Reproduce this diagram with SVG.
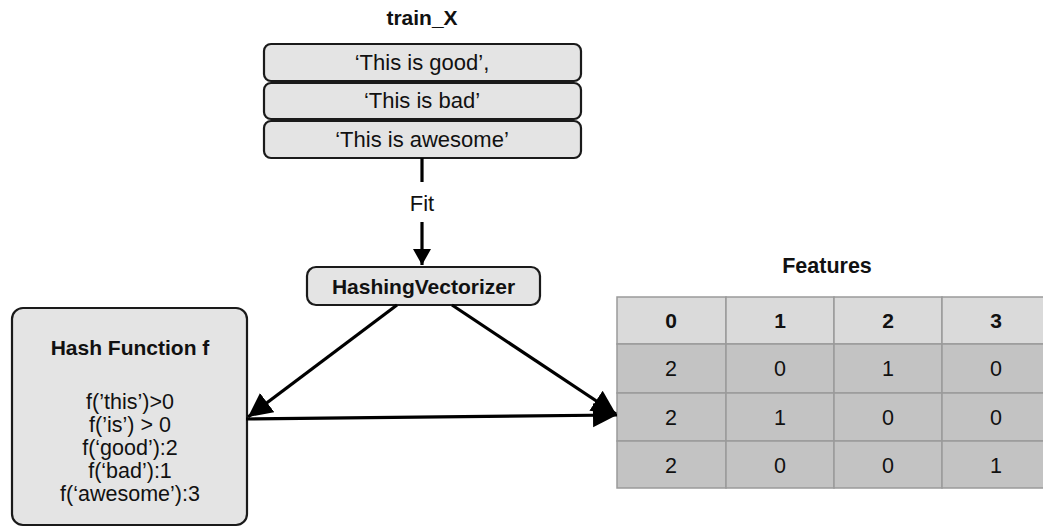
<svg xmlns="http://www.w3.org/2000/svg" width="1043" height="528" viewBox="0 0 1043 528">
<defs>
<style>
text{font-family:"Liberation Sans",Arial,sans-serif;fill:#111;text-anchor:middle}
.t{font-size:21.5px}
.r{font-size:22px}
.b{font-size:21px;font-weight:bold}
.box{fill:#e4e4e4;stroke:#1a1a1a;stroke-width:2.2}
.hd{fill:#dadada;stroke:#9a9a9a;stroke-width:1.5}
.cell{fill:#c3c3c3;stroke:#9a9a9a;stroke-width:1.5}
.ln{stroke:#000;stroke-width:3.2;fill:none}
</style>
<marker id="ah" markerUnits="userSpaceOnUse" markerWidth="26" markerHeight="26" refX="24" refY="12" orient="auto">
<path d="M0,0 L24,12 L0,24 z" fill="#000"/>
</marker>
<marker id="ahs" markerUnits="userSpaceOnUse" markerWidth="20" markerHeight="20" refX="16" refY="9" orient="auto">
<path d="M0,0 L16,9 L0,18 z" fill="#000"/>
</marker>
</defs>
<rect width="1043" height="528" fill="#fff"/>

<g id="trainX">
<text class="b" x="422" y="25">train_X</text>
<rect class="box" x="264" y="44" width="317" height="37" rx="7"/>
<text class="r" x="422" y="70">‘This is good’,</text>
<rect class="box" x="264" y="83" width="317" height="36" rx="7"/>
<text class="r" x="422" y="108">‘This is bad’</text>
<rect class="box" x="264" y="121" width="317" height="37" rx="7"/>
<text class="r" x="422" y="147">‘This is awesome’</text>
</g>

<g id="hashingVectorizer">
<rect class="box" x="307" y="267" width="233" height="38" rx="9"/>
<text class="b" x="423.5" y="294">HashingVectorizer</text>
</g>

<g id="hashFunction">
<rect class="box" x="12" y="308" width="235" height="217" rx="11"/>
<text class="b" x="130" y="355">Hash Function f</text>
<text class="t" x="130" y="409">f(’this’)&gt;0</text>
<text class="t" x="130" y="432">f(’is’) &gt; 0</text>
<text class="t" x="130" y="455">f(‘good’):2</text>
<text class="t" x="130" y="478">f(‘bad’):1</text>
<text class="t" x="130" y="501">f(‘awesome’):3</text>
</g>

<g id="features">
<text class="b" x="827" y="273" style="font-size:21.5px">Features</text>
<rect class="hd" x="617" y="297" width="109" height="47"/>
<rect class="hd" x="726" y="297" width="108" height="47"/>
<rect class="hd" x="834" y="297" width="108" height="47"/>
<rect class="hd" x="942" y="297" width="108" height="47"/>
<rect class="cell" x="617" y="344" width="109" height="49"/>
<rect class="cell" x="726" y="344" width="108" height="49"/>
<rect class="cell" x="834" y="344" width="108" height="49"/>
<rect class="cell" x="942" y="344" width="108" height="49"/>
<rect class="cell" x="617" y="393" width="109" height="48"/>
<rect class="cell" x="726" y="393" width="108" height="48"/>
<rect class="cell" x="834" y="393" width="108" height="48"/>
<rect class="cell" x="942" y="393" width="108" height="48"/>
<rect class="cell" x="617" y="441" width="109" height="47"/>
<rect class="cell" x="726" y="441" width="108" height="47"/>
<rect class="cell" x="834" y="441" width="108" height="47"/>
<rect class="cell" x="942" y="441" width="108" height="47"/>
<text class="b" x="671" y="328">0</text>
<text class="b" x="780" y="328">1</text>
<text class="b" x="888" y="328">2</text>
<text class="b" x="996" y="328">3</text>
<text class="t" x="671" y="376">2</text>
<text class="t" x="780" y="376">0</text>
<text class="t" x="888" y="376">1</text>
<text class="t" x="996" y="376">0</text>
<text class="t" x="671" y="425">2</text>
<text class="t" x="780" y="425">1</text>
<text class="t" x="888" y="425">0</text>
<text class="t" x="996" y="425">0</text>
<text class="t" x="671" y="473">2</text>
<text class="t" x="780" y="473">0</text>
<text class="t" x="888" y="473">0</text>
<text class="t" x="996" y="473">1</text>
</g>

<g id="connectors">
<line class="ln" x1="422" y1="158" x2="422" y2="182"/>
<text class="r" x="422" y="211">Fit</text>
<line class="ln" x1="422" y1="222" x2="422" y2="265" marker-end="url(#ahs)"/>
<line class="ln" x1="397" y1="305" x2="248" y2="417" marker-end="url(#ah)"/>
<line class="ln" x1="452" y1="305" x2="616" y2="414" marker-end="url(#ah)"/>
<line class="ln" x1="246" y1="419" x2="617" y2="415" marker-end="url(#ah)"/>
</g>
</svg>
